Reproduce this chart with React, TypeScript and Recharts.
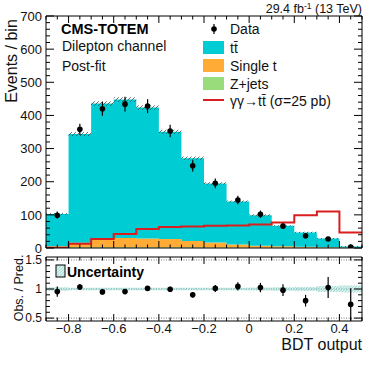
import React from 'react';
import { ComposedChart, Area, Line, Scatter, ErrorBar, XAxis, YAxis, ReferenceLine } from 'recharts';

// BDT output binning (14 bins of 0.1)
const BIN_EDGES = [-0.9, -0.8, -0.7, -0.6, -0.5, -0.4, -0.3, -0.2, -0.1, 0, 0.1, 0.2, 0.3, 0.4, 0.5];
const BIN_CENTERS = [-0.85, -0.75, -0.65, -0.55, -0.45, -0.35, -0.25, -0.15, -0.05, 0.05, 0.15, 0.25, 0.35, 0.45];

// post-fit stack (events / bin)
const ZJETS = [1.5, 2, 2, 2, 2, 2, 2, 1.5, 1.5, 1, 1, 1, 0.5, 0.5];
const SINGLE_T = [4, 14, 26, 28, 27, 25, 19, 15, 9, 6, 4, 3, 2, 1];
const TTBAR = [97, 328, 408, 418, 395, 324, 250, 178, 130, 92, 62, 43, 26, 3];
const STACK_UNC = [3, 6, 7, 7, 7, 6, 5, 4, 3, 3, 2, 2, 2, 1.5];
const SIGNAL = [1, 13, 27, 42, 57, 63, 65, 67, 68, 71, 77, 99, 110, 47];

// data
const DATA = [99, 358, 420, 434, 428, 353, 248, 195, 145, 102, 66, 37, 27, 3];
const DATA_ERR = [11, 17, 21, 22, 21, 19, 17, 15, 13, 11, 9, 7, 6, 3];

// ratio panel
const RATIO = [0.955, 1.035, 0.95, 0.955, 1.01, 0.995, 0.9, 1.01, 1.045, 1.025, 0.98, 0.8, 1.025, 0.735];
const RATIO_ERR = [0.09, 0.05, 0.04, 0.04, 0.04, 0.045, 0.05, 0.06, 0.07, 0.08, 0.1, 0.1, 0.18, 0.28];
const RATIO_UNC = [0.03, 0.02, 0.02, 0.02, 0.02, 0.02, 0.02, 0.02, 0.02, 0.025, 0.03, 0.035, 0.05, 0.06];

// axis labels
const X_TICK_VALUES = [-0.8, -0.6, -0.4, -0.2, 0, 0.2, 0.4];
const X_TICK_LABELS = ['\u22120.8', '\u22120.6', '\u22120.4', '\u22120.2', '0', '0.2', '0.4'];
const Y_TICK_VALUES = [0, 100, 200, 300, 400, 500, 600, 700];
const Y_TICK_LABELS = ['0', '100', '200', '300', '400', '500', '600', '700'];
const R_TICK_VALUES = [0.5, 1, 1.5];
const R_TICK_LABELS = ['0.5', '1', '1.5'];

const FONT = '"Liberation Sans", Arial, Helvetica, sans-serif';
const C_TT = '#00cdd3';
const C_ST = '#ffab36';
const C_Z = '#98dc7c';
const C_SIG = '#d81e1e';

// minor tick positions
const X_MINOR = Array.from({ length: 29 }, (_, i) => Math.round((-0.9 + i * 0.05) * 100) / 100);
const Y_MINOR = Array.from({ length: 36 }, (_, i) => i * 20);
const R_MINOR = Array.from({ length: 11 }, (_, i) => Math.round((0.5 + i * 0.1) * 10) / 10);

const last = BIN_CENTERS.length - 1;
const stackRows = BIN_EDGES.map((x, i) => {
  const b = Math.min(i, last);
  const tot = ZJETS[b] + SINGLE_T[b] + TTBAR[b];
  return {
    x,
    zjets: ZJETS[b],
    single: SINGLE_T[b],
    ttbar: TTBAR[b],
    signal: SIGNAL[b],
    band: [tot - STACK_UNC[b], tot + STACK_UNC[b]],
  };
});
const ratioBand = BIN_EDGES.map((x, i) => {
  const b = Math.min(i, last);
  return { x, band: [1 - RATIO_UNC[b], 1 + RATIO_UNC[b]] };
});
const dataPts = BIN_CENTERS.map((x, i) => ({ x, y: DATA[i], err: DATA_ERR[i] }));
const ratioPts = BIN_CENTERS.map((x, i) => ({ x, y: RATIO[i], err: RATIO_ERR[i] }));

const findLabel = (v: number, vals: number[], labels: string[]) => {
  const k = vals.findIndex((t) => Math.abs(t - v) < 1e-6);
  return k >= 0 ? labels[k] : null;
};

// inward ticks, ROOT style
const XTick = (props: any) => {
  const { x = 0, y = 0, payload, side, showLabels } = props;
  const v = payload.value;
  const lab = findLabel(v, X_TICK_VALUES, X_TICK_LABELS);
  const len = lab !== null ? 7 : 3.5;
  const dir = side === 'top' ? 1 : -1;
  return (
    <g>
      <line x1={x} x2={x} y1={y} y2={y + dir * len} stroke="#000" strokeWidth={1} />
      {showLabels && lab !== null && (
        <text x={x} y={y + 11.5} textAnchor="middle" fontSize={13} fill="#111" fontFamily={FONT}>
          {lab}
        </text>
      )}
    </g>
  );
};

const YTick = (props: any) => {
  const { x = 0, y = 0, payload, side, vals, labels, majorLen, fontSize } = props;
  const lab = findLabel(payload.value, vals, labels);
  const len = lab !== null ? majorLen : majorLen / 2;
  const dir = side === 'right' ? -1 : 1;
  return (
    <g>
      <line x1={x} x2={x + dir * len} y1={y} y2={y} stroke="#000" strokeWidth={1} />
      {side === 'left' && lab !== null && (
        <text x={x - 4} y={y + fontSize * 0.36} textAnchor="end" fontSize={fontSize} fill="#111" fontFamily={FONT}>
          {lab}
        </text>
      )}
    </g>
  );
};

const Dot = (p: any) => <circle cx={p.cx} cy={p.cy} r={2.8} fill="#000" />;

export default function App() {
  return (
    <div style={{ position: 'absolute', left: 0, top: 0, width: 382, height: 365, background: '#fff', fontFamily: FONT }}>
      <svg width={0} height={0} style={{ position: 'absolute' }}>
        <defs>
          <pattern id="hatch" patternUnits="userSpaceOnUse" width={4} height={4}>
            <path d="M-1,1 l2,-2 M0,4 l4,-4 M3,5 l2,-2" stroke="#333" strokeWidth={0.7} />
          </pattern>
          <pattern id="hatchLight" patternUnits="userSpaceOnUse" width={3} height={3}>
            <rect width={3} height={3} fill="#d8f1ee" />
            <path d="M-1,1 l2,-2 M0,3 l3,-3 M2,4 l2,-2" stroke="#8fd3c8" strokeWidth={0.7} />
          </pattern>
        </defs>
      </svg>

      <div style={{ position: 'absolute', left: 0, top: 250 }}>
        <ComposedChart width={382} height={115} margin={{ top: 6, right: 19, bottom: 43, left: 45 }} data={ratioBand}>
          <XAxis dataKey="x" type="number" domain={[-0.9, 0.5]} ticks={X_MINOR} interval={0} height={1}
            tickSize={0} tickMargin={0} stroke="#000" tick={<XTick side="bottom" showLabels />} allowDataOverflow />
          <XAxis xAxisId="top" orientation="top" dataKey="x" type="number" domain={[-0.9, 0.5]} ticks={X_MINOR} interval={0}
            height={1} tickSize={0} tickMargin={0} stroke="#000" tick={<XTick side="top" />} allowDataOverflow />
          <YAxis type="number" domain={[0.45, 1.55]} ticks={R_MINOR} interval={0} width={1} tickSize={0} tickMargin={0}
            stroke="#000" allowDataOverflow
            tick={<YTick side="left" vals={R_TICK_VALUES} labels={R_TICK_LABELS} majorLen={8} fontSize={12} />} />
          <YAxis yAxisId="right" orientation="right" type="number" domain={[0.45, 1.55]} ticks={R_MINOR} interval={0}
            width={1} tickSize={0} tickMargin={0} stroke="#000" allowDataOverflow
            tick={<YTick side="right" vals={R_TICK_VALUES} labels={R_TICK_LABELS} majorLen={8} fontSize={12} />} />
          <ReferenceLine y={1.5} stroke="#777" strokeDasharray="1 1.5" />
          <ReferenceLine y={0.5} stroke="#777" strokeDasharray="1 1.5" />
          <Area type="stepAfter" dataKey="band" fill="url(#hatchLight)" fillOpacity={1} stroke="none" isAnimationActive={false} />
          <ReferenceLine y={1} stroke="#6fa9a8" strokeDasharray="1 1.5" />
          <Scatter data={ratioPts} dataKey="y" shape={Dot} isAnimationActive={false}>
            <ErrorBar dataKey="err" direction="y" width={0} stroke="#000" strokeWidth={1.2} />
          </Scatter>
        </ComposedChart>
      </div>

      <div style={{ position: 'absolute', left: 0, top: 0 }}>
        <ComposedChart width={382} height={255} margin={{ top: 15, right: 19, bottom: 6, left: 45 }} data={stackRows}>
          <XAxis dataKey="x" type="number" domain={[-0.9, 0.5]} ticks={X_MINOR} interval={0} height={1}
            tickSize={0} tickMargin={0} stroke="#000" tick={<XTick side="bottom" showLabels={false} />} allowDataOverflow />
          <XAxis xAxisId="top" orientation="top" dataKey="x" type="number" domain={[-0.9, 0.5]} ticks={X_MINOR} interval={0}
            height={1} tickSize={0} tickMargin={0} stroke="#000" tick={<XTick side="top" />} allowDataOverflow />
          <YAxis type="number" domain={[0, 700]} ticks={Y_MINOR} interval={0} width={1} tickSize={0} tickMargin={0}
            stroke="#000" allowDataOverflow
            tick={<YTick side="left" vals={Y_TICK_VALUES} labels={Y_TICK_LABELS} majorLen={8} fontSize={13} />} />
          <YAxis yAxisId="right" orientation="right" type="number" domain={[0, 700]} ticks={Y_MINOR} interval={0} width={1}
            tickSize={0} tickMargin={0} stroke="#000" allowDataOverflow
            tick={<YTick side="right" vals={Y_TICK_VALUES} labels={Y_TICK_LABELS} majorLen={8} fontSize={13} />} />
          <Area type="stepAfter" dataKey="zjets" stackId="s" fill={C_Z} fillOpacity={1} stroke="none" isAnimationActive={false} />
          <Area type="stepAfter" dataKey="single" stackId="s" fill={C_ST} fillOpacity={1} stroke="none" isAnimationActive={false} />
          <Area type="stepAfter" dataKey="ttbar" stackId="s" fill={C_TT} fillOpacity={1} stroke="none" isAnimationActive={false} />
          <Area type="stepAfter" dataKey="band" fill="url(#hatch)" fillOpacity={1} stroke="none" isAnimationActive={false} />
          <Line type="stepAfter" dataKey="signal" stroke={C_SIG} strokeWidth={2} dot={false} isAnimationActive={false} />
          <Scatter data={dataPts} dataKey="y" shape={Dot} isAnimationActive={false}>
            <ErrorBar dataKey="err" direction="y" width={0} stroke="#000" strokeWidth={1.2} />
          </Scatter>
        </ComposedChart>
      </div>

      <svg width={382} height={365} style={{ position: 'absolute', left: 0, top: 0, pointerEvents: 'none' }} fontFamily={FONT}>
        <text x={362} y={12.5} textAnchor="end" fontSize={12.5} fill="#111">
          29.4 fb<tspan dy={-4} fontSize={8.5}>-1</tspan><tspan dy={4}> (13 TeV)</tspan>
        </text>
        <text x={61} y={34} fontSize={14.5} fontWeight="bold" fill="#000">CMS-TOTEM</text>
        <text x={62} y={51} fontSize={14} fill="#111">Dilepton channel</text>
        <text x={62} y={71} fontSize={14} fill="#111">Post-fit</text>
        <text transform="translate(17,61) rotate(-90)" textAnchor="middle" fontSize={16} fill="#111">Events / bin</text>

        {/* legend */}
        <line x1={214} x2={214} y1={24} y2={34} stroke="#000" strokeWidth={1.2} />
        <circle cx={214} cy={29} r={2.8} fill="#000" />
        <text x={230} y={34} fontSize={14} fill="#111">Data</text>
        <rect x={203} y={41} width={21} height={13} fill={C_TT} />
        <text x={230} y={53} fontSize={14} fill="#111">tt&#772;</text>
        <rect x={203} y={59} width={21} height={13} fill={C_ST} />
        <text x={230} y={71} fontSize={14} fill="#111">Single t</text>
        <rect x={203} y={77} width={21} height={13} fill={C_Z} />
        <text x={230} y={89} fontSize={14} fill="#111">Z+jets</text>
        <line x1={203} x2={224} y1={100} y2={100} stroke={C_SIG} strokeWidth={2} />
        <text x={230} y={106} fontSize={14} fill="#111">{'\u03b3\u03b3\u2192tt\u0304 (\u03c3=25 pb)'}</text>

        {/* ratio panel texts */}
        <rect x={56} y={265} width={9} height={12} fill="url(#hatchLight)" stroke="#000" strokeWidth={1} />
        <text x={67} y={276.5} fontSize={14} fontWeight="bold" fill="#000">Uncertainty</text>
        <text transform="translate(23,288) rotate(-90)" textAnchor="middle" fontSize={12.5} fill="#111">Obs. / Pred.</text>
        <text x={362} y={350} textAnchor="end" fontSize={16} fill="#111">BDT output</text>
      </svg>
    </div>
  );
}
